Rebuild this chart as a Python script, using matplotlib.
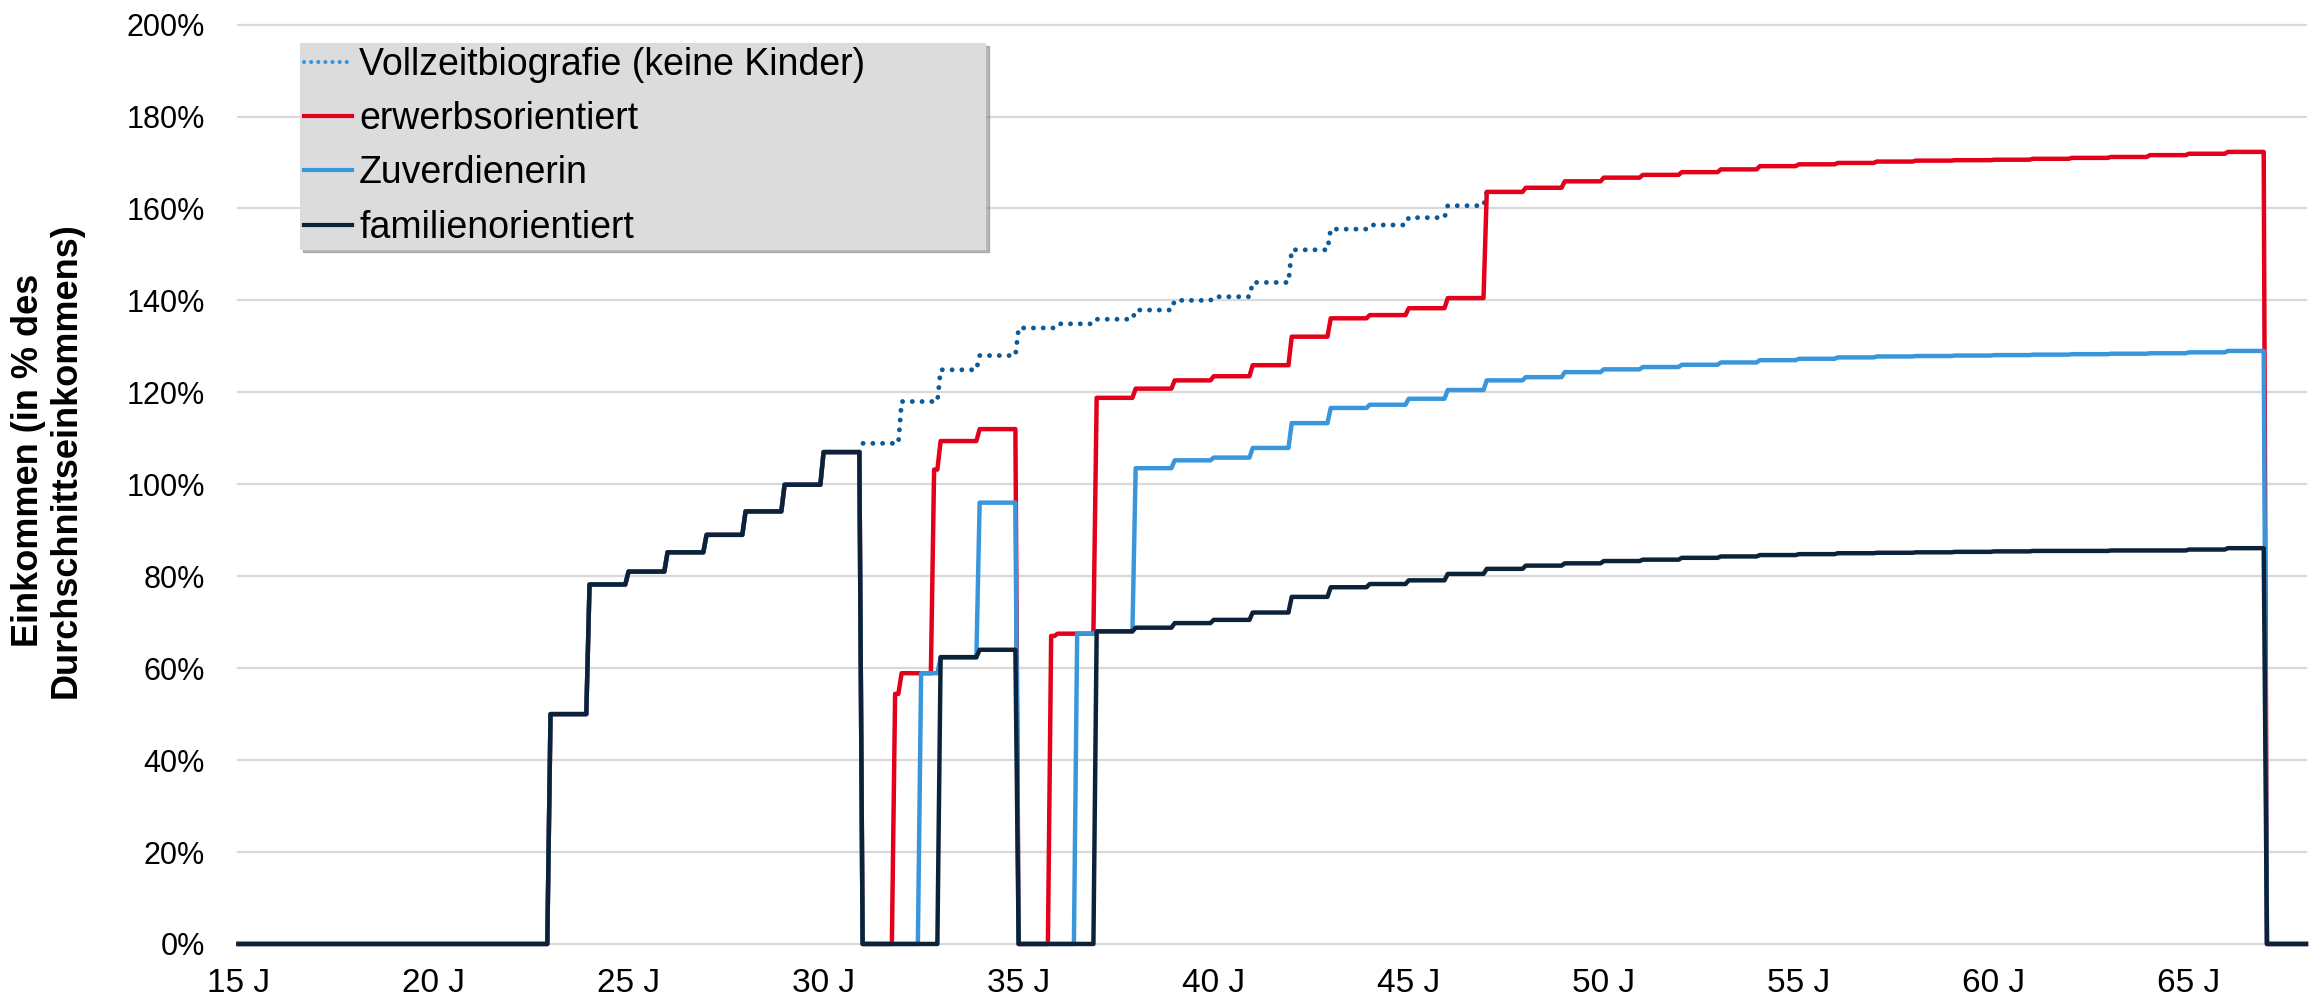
import numpy as np
import matplotlib
matplotlib.use("Agg")
import matplotlib.pyplot as plt
from matplotlib.lines import Line2D
from matplotlib.ticker import FuncFormatter

plt.rcParams['font.family'] = ['Liberation Sans', 'DejaVu Sans']

# ---------------- data (income in % of average income, by age in years) -------------
# common career start (identical for all types until the first child at 31)
career_ages = [15, 23, 24, 25, 26, 27, 28, 29, 30]
career_vals = [0, 50.0, 78.2, 81.0, 85.2, 89.0, 94.1, 99.9, 107.0]

# Vollzeitbiografie (keine Kinder): 31 .. 47
vz_ages = list(range(31, 48))
vz_vals = [108.9, 118.0, 124.9, 128.0, 134.0, 134.9, 135.9, 137.9, 140.0, 140.8,
           143.9, 151.0, 155.5, 156.4, 158.0, 160.6, 163.6]

# erwerbsorientiert
erw_ages = [31, 31.83, 32, 32.83, 33, 34, 35, 35.83, 36, 37] + list(range(38, 68))
erw_vals = [0, 54.4, 58.9, 103.2, 109.4, 112.0, 0, 67.0, 67.5, 118.8,
            120.8, 122.6, 123.5, 125.9, 132.1, 136.1, 136.8, 138.3, 140.5, 163.6,
            164.5, 165.9, 166.7, 167.3, 167.9, 168.5, 169.2, 169.6, 169.9, 170.2,
            170.4, 170.5, 170.6, 170.8, 171.0, 171.2, 171.6, 171.9, 172.3, 0]

# Zuverdienerin
zuv_ages = [31, 32.5, 33, 34, 35, 36.5, 37] + list(range(38, 68))
zuv_vals = [0, 58.9, 62.3, 96.0, 0, 67.5, 68.0,
            103.5, 105.2, 105.8, 107.9, 113.3, 116.6, 117.3, 118.6, 120.5, 122.6,
            123.3, 124.4, 125.0, 125.5, 126.0, 126.5, 127.0, 127.3, 127.6, 127.8,
            127.9, 128.0, 128.1, 128.2, 128.3, 128.4, 128.5, 128.7, 129.0, 0]

# familienorientiert
fam_ages = [31, 33, 34, 35, 37] + list(range(38, 68))
fam_vals = [0, 62.4, 64.0, 0, 68.0,
            68.8, 69.8, 70.5, 72.1, 75.5, 77.6, 78.3, 79.1, 80.5, 81.6,
            82.3, 82.8, 83.3, 83.6, 84.0, 84.3, 84.6, 84.8, 85.0, 85.1,
            85.2, 85.3, 85.4, 85.5, 85.5, 85.6, 85.6, 85.8, 86.1, 0]

labels = ['Vollzeitbiografie (keine Kinder)', 'erwerbsorientiert',
          'Zuverdienerin', 'familienorientiert']
x_ticks = [15, 20, 25, 30, 35, 40, 45, 50, 55, 60, 65]
x_ticklabels = [f'{a} J' for a in x_ticks]
y_ticks = list(range(0, 201, 20))

c_vz = '#0B5A9A'
c_vz_leg = '#3A96DB'
c_erw = '#E2001A'
c_zuv = '#3A96DB'
c_fam = '#0B2238'


def monthly(ages, vals, start, end):
    """sample the yearly step values on a monthly grid"""
    t = np.arange(int(round(start * 12)), int(round(end * 12)) + 1) / 12.0
    idx = np.searchsorted(np.asarray(ages, float), t + 0.01, side='right') - 1
    return t, np.asarray(vals, float)[idx]


fig = plt.figure(figsize=(23.15, 10.07), dpi=100)
ax = fig.add_axes([0.1030, 0.0626, 0.8931, 0.9130])

lw = 3.2
t, v = monthly([30] + vz_ages, [career_vals[-1]] + vz_vals, 30 + 11 / 12, 47)
ax.plot(t, v, color=c_vz, lw=3.5, linestyle=(0, (0.01, 2.0)),
        dash_capstyle='round', clip_on=False, zorder=3)
t, v = monthly(career_ages + erw_ages, career_vals + erw_vals, 15, 68)
ax.plot(t, v, color=c_erw, lw=lw, clip_on=False, zorder=4)
t, v = monthly(career_ages + zuv_ages, career_vals + zuv_vals, 15, 68)
ax.plot(t, v, color=c_zuv, lw=lw, clip_on=False, zorder=5)
t, v = monthly(career_ages + fam_ages, career_vals + fam_vals, 15, 68)
ax.plot(t, v, color=c_fam, lw=lw, clip_on=False, zorder=6)

ax.set_xlim(15, 68)
ax.set_ylim(0, 200)
ax.set_yticks(y_ticks)
ax.yaxis.set_major_formatter(FuncFormatter(lambda val, pos: f'{val:.0f}%'))
ax.set_xticks(x_ticks)
ax.set_xticklabels(x_ticklabels)
ax.tick_params(axis='both', length=0)
ax.tick_params(axis='y', pad=24, labelsize=22)
ax.tick_params(axis='x', pad=17, labelsize=24)
ax.grid(axis='y', color='#D9D9D9', lw=1.6)
ax.grid(axis='x', visible=False)
for gl in ax.get_ygridlines():
    gl.set_clip_on(False)
ax.set_axisbelow(True)
for s in ax.spines.values():
    s.set_visible(False)

ax.set_ylabel('Einkommen (in % des\nDurchschnittseinkommens)', fontsize=26,
              fontweight='bold', linespacing=1.1, va='center')
ax.yaxis.set_label_coords(-0.0926, 0.526)

handles = [
    Line2D([], [], color=c_vz_leg, lw=3.0, linestyle=(0, (0.01, 1.7)), dash_capstyle='round'),
    Line2D([], [], color=c_erw, lw=3.0),
    Line2D([], [], color=c_zuv, lw=3.0),
    Line2D([], [], color=c_fam, lw=3.0),
]
leg = ax.legend(handles, labels, loc='upper left',
                bbox_to_anchor=(0.0297, 0.752, 0.3319, 0.228), mode='expand',
                fontsize=27, frameon=True, facecolor='#DCDCDC', edgecolor='none',
                framealpha=1, fancybox=False,
                shadow={'color': '#8a8a8a', 'alpha': 0.6},
                handlelength=1.3, handletextpad=0.18, labelspacing=0.49,
                borderpad=0.1, borderaxespad=0)
leg.set_zorder(10)

fig.savefig('out.png', dpi=100)
